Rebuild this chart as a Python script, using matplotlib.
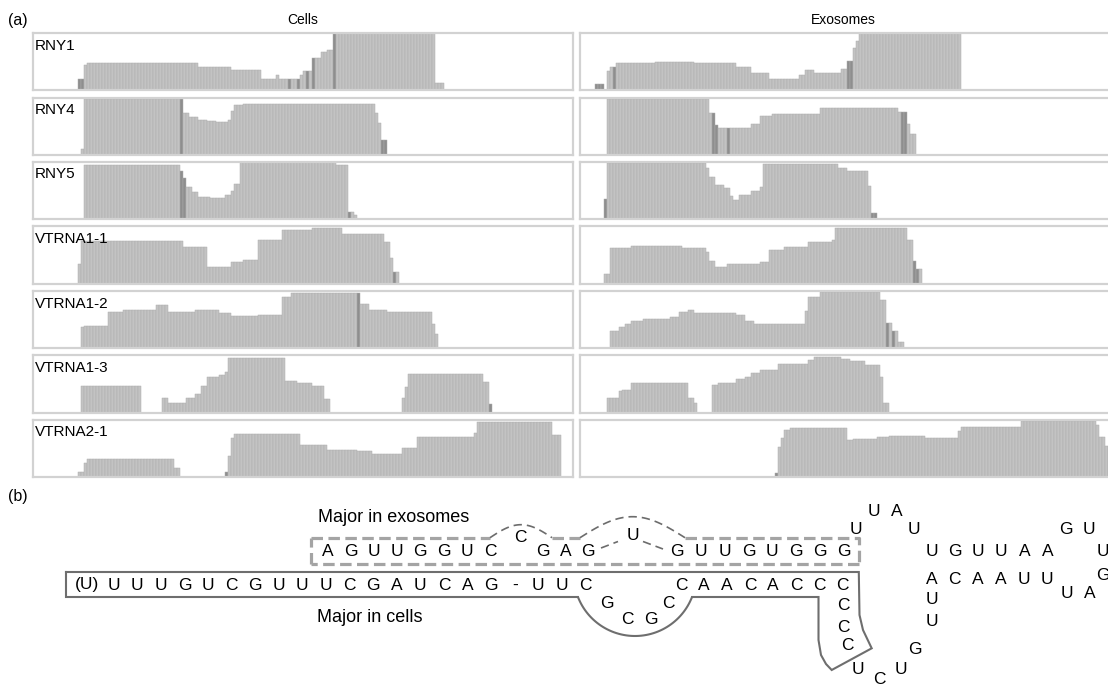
import numpy as np
import matplotlib
matplotlib.use("Agg")
import matplotlib.pyplot as plt

plt.rcParams["font.family"] = ["Liberation Sans", "DejaVu Sans"]

# ---------------------------------------------------------------------------
# Coverage profiles (position in nt along the track window, relative coverage)
# edges: step boundaries, cov: coverage of each step, dark: mismatch-rich bases
# ---------------------------------------------------------------------------
track_names = ["RNY1", "RNY4", "RNY5", "VTRNA1-1", "VTRNA1-2", "VTRNA1-3", "VTRNA2-1"]

rny1_cells_edges = [15, 17, 18, 55, 66, 76, 81, 82, 89, 90, 93, 96, 98, 100, 134, 137]
rny1_cells_cov = [0.19, 0.43, 0.47, 0.41, 0.35, 0.20, 0.26, 0.20, 0.26, 0.33, 0.57, 0.66, 0.70, 1.0, 0.12]
rny1_cells_dark = [15, 16, 85, 88, 91, 93, 100]

rny4_cells_edges = [16, 17, 50, 52, 55, 58, 61, 65, 66, 67, 70, 114, 115, 116, 118]
rny4_cells_cov = [0.09, 0.98, 0.72, 0.65, 0.61, 0.59, 0.57, 0.60, 0.76, 0.86, 0.89, 0.72, 0.55, 0.25]
rny4_cells_dark = [49, 116, 117]

rny5_cells_edges = [17, 49, 50, 51, 53, 55, 59, 64, 66, 67, 69, 101, 105, 107, 108]
rny5_cells_cov = [0.94, 0.85, 0.72, 0.57, 0.48, 0.38, 0.36, 0.42, 0.50, 0.62, 1.0, 0.95, 0.13, 0.07]
rny5_cells_dark = [49, 50, 105]

vtrna11_cells_edges = [15, 16, 50, 58, 66, 70, 75, 83, 93, 103, 117, 119, 120, 122]
vtrna11_cells_cov = [0.34, 0.75, 0.64, 0.29, 0.37, 0.42, 0.77, 0.93, 0.97, 0.87, 0.73, 0.45, 0.20]
vtrna11_cells_dark = [120]

vtrna12_cells_edges = [16, 17, 25, 30, 41, 45, 54, 62, 66, 75, 83, 86, 109, 112, 118, 133, 134, 135]
vtrna12_cells_cov = [0.36, 0.39, 0.64, 0.66, 0.75, 0.64, 0.67, 0.61, 0.56, 0.58, 0.89, 0.96, 0.77, 0.67, 0.64, 0.42, 0.25]
vtrna12_cells_dark = [108]

vtrna13_cells_edges = [16, 36, 43, 45, 51, 54, 56, 58, 62, 64, 65, 84, 88, 93, 97, 99,
                       123, 124, 125, 150, 152, 153]
vtrna13_cells_cov = [0.47, 0, 0.25, 0.16, 0.25, 0.33, 0.47, 0.62, 0.66, 0.71, 0.96, 0.55, 0.51,
                     0.46, 0.23, 0, 0.25, 0.44, 0.67, 0.53, 0.15]
vtrna13_cells_dark = [152]

vtrna21_cells_edges = [15, 17, 18, 47, 49, 64, 65, 66, 67, 89, 98, 108, 113, 123, 128, 147, 148, 173, 176]
vtrna21_cells_cov = [0.09, 0.24, 0.31, 0.16, 0, 0.08, 0.37, 0.69, 0.76, 0.57, 0.48, 0.45, 0.41, 0.51,
                     0.70, 0.77, 0.96, 0.74]
vtrna21_cells_dark = [64]

rny1_exo_edges = [5, 8, 9, 10, 12, 25, 38, 52, 57, 63, 73, 75, 78, 87, 89, 91, 92, 93, 127]
rny1_exo_cov = [0.11, 0, 0.33, 0.41, 0.47, 0.50, 0.47, 0.40, 0.30, 0.19, 0.27, 0.35, 0.30, 0.37,
                0.51, 0.74, 0.86, 1.0]
rny1_exo_dark = [5, 6, 7, 11, 89, 90]

rny4_exo_edges = [9, 43, 45, 46, 57, 60, 64, 80, 106, 109, 110, 112]
rny4_exo_cov = [0.98, 0.72, 0.51, 0.46, 0.54, 0.68, 0.71, 0.82, 0.74, 0.53, 0.36]
rny4_exo_dark = [44, 45, 49, 107, 108]

rny5_exo_edges = [8, 9, 42, 43, 45, 48, 50, 51, 53, 57, 60, 61, 86, 89, 96, 97, 99]
rny5_exo_cov = [0.35, 0.98, 0.89, 0.74, 0.60, 0.54, 0.40, 0.33, 0.42, 0.50, 0.57, 0.96, 0.89,
                0.85, 0.58, 0.10]
rny5_exo_dark = [8, 97, 98]

vtrna11_exo_edges = [8, 10, 17, 34, 42, 43, 45, 49, 60, 63, 68, 76, 84, 85, 109, 111, 112, 114]
vtrna11_exo_cov = [0.16, 0.63, 0.66, 0.63, 0.55, 0.40, 0.29, 0.34, 0.38, 0.59, 0.64, 0.73, 0.77,
                   0.98, 0.77, 0.40, 0.25]
vtrna11_exo_dark = [111, 112]

vtrna12_exo_edges = [10, 13, 15, 17, 21, 30, 33, 36, 38, 52, 55, 58, 75, 76, 80, 100, 102, 104, 106, 108]
vtrna12_exo_cov = [0.30, 0.37, 0.42, 0.48, 0.51, 0.55, 0.63, 0.67, 0.62, 0.58, 0.48, 0.42, 0.65,
                   0.90, 0.99, 0.84, 0.43, 0.30, 0.10]
vtrna12_exo_dark = [102, 104]

vtrna13_exo_edges = [9, 13, 14, 17, 36, 38, 39, 44, 46, 52, 55, 57, 60, 66, 76, 78, 87, 90, 95,
                     100, 101, 103]
vtrna13_exo_cov = [0.25, 0.37, 0.40, 0.52, 0.26, 0.16, 0, 0.48, 0.52, 0.58, 0.63, 0.69, 0.74,
                   0.85, 0.92, 0.98, 0.94, 0.90, 0.84, 0.63, 0.16]
vtrna13_exo_dark = []

vtrna21_exo_edges = [65, 66, 67, 68, 70, 89, 91, 99, 103, 115, 126, 127, 139, 147, 172, 173, 175, 177]
vtrna21_exo_cov = [0.07, 0.52, 0.68, 0.83, 0.86, 0.65, 0.66, 0.70, 0.72, 0.69, 0.80, 0.87, 0.88,
                   0.98, 0.91, 0.70, 0.55]
vtrna21_exo_dark = [65]

cells_tracks = [
    (rny1_cells_edges, rny1_cells_cov, rny1_cells_dark),
    (rny4_cells_edges, rny4_cells_cov, rny4_cells_dark),
    (rny5_cells_edges, rny5_cells_cov, rny5_cells_dark),
    (vtrna11_cells_edges, vtrna11_cells_cov, vtrna11_cells_dark),
    (vtrna12_cells_edges, vtrna12_cells_cov, vtrna12_cells_dark),
    (vtrna13_cells_edges, vtrna13_cells_cov, vtrna13_cells_dark),
    (vtrna21_cells_edges, vtrna21_cells_cov, vtrna21_cells_dark),
]
exo_tracks = [
    (rny1_exo_edges, rny1_exo_cov, rny1_exo_dark),
    (rny4_exo_edges, rny4_exo_cov, rny4_exo_dark),
    (rny5_exo_edges, rny5_exo_cov, rny5_exo_dark),
    (vtrna11_exo_edges, vtrna11_exo_cov, vtrna11_exo_dark),
    (vtrna12_exo_edges, vtrna12_exo_cov, vtrna12_exo_dark),
    (vtrna13_exo_edges, vtrna13_exo_cov, vtrna13_exo_dark),
    (vtrna21_exo_edges, vtrna21_exo_cov, vtrna21_exo_dark),
]

# Sequences of the VTRNA1-1 5' region shown in panel (b)
exo_run1 = "AGUUGGUC"
exo_bulge1 = "C"
exo_run2 = "GAG"
exo_bulge2 = "U"
exo_run3 = "GUUGUGGG"
cell_lead = "(U)"
cell_run1 = "UUUGUCGUUUCGAUCAG-UUC"
cell_loop = "GCGC"
cell_run2 = "CAACACCC"
cell_column = "CCC"
hairpin_turn = "UCUGUU"
stem_lower = "ACAAUU"
stem_tip = "UAGUUG"
stem_upper = "UGUUAA"
stem_return = "UAUU"

# ---------------------------------------------------------------------------
W, H = 1108, 686
fig = plt.figure(figsize=(W / 100, H / 100), dpi=100)


def px_axes(x, y, w, h):
    return fig.add_axes([x / W, 1 - (y + h) / H, w / W, h / H])


def expand(edges, cov):
    pos, hgt = [], []
    for a, b, c in zip(edges[:-1], edges[1:], cov):
        for p in range(a, b):
            pos.append(p)
            hgt.append(c)
    return np.array(pos), np.array(hgt)


def draw_track(ax, edges, cov, dark):
    pos, hgt = expand(edges, cov)
    keep = hgt > 0
    pos, hgt = pos[keep], hgt[keep]
    face = ["#8e8e8e" if p in dark else "#c3c3c3" for p in pos]
    ax.bar(pos, hgt, width=1.0, align="edge", color=face,
           edgecolor="#adadad", linewidth=0.35)
    ax.set_xlim(0, 180)
    ax.set_ylim(0, 1.0)
    ax.set_xticks([])
    ax.set_yticks([])
    for s in ax.spines.values():
        s.set_color("#d2d2d2")
        s.set_linewidth(1.6)


row_top0, row_step, row_h = 33.0, 64.5, 57.0
col_x = [32.5, 580.0]
col_w = 540.0

for i, name in enumerate(track_names):
    top = row_top0 + i * row_step
    for x0, tr in zip(col_x, (cells_tracks[i], exo_tracks[i])):
        ax = px_axes(x0, top, col_w, row_h)
        draw_track(ax, *tr)

ov = fig.add_axes([0, 0, 1, 1], facecolor="none")
ov.set_xlim(0, W)
ov.set_ylim(H, 0)
ov.axis("off")

# Panel (a) headings and track names
ov.text(8, 20, "(a)", fontsize=11.5, ha="left", va="center")
ov.text(303, 20, "Cells", fontsize=10, ha="center", va="center")
ov.text(843, 20, "Exosomes", fontsize=10, ha="center", va="center")
for i, name in enumerate(track_names):
    ov.text(35, row_top0 + i * row_step + 12.5, name, fontsize=11, ha="left", va="center")

# Panel (b)
ov.text(8, 497, "(b)", fontsize=11.5, ha="left", va="center")
ov.text(318, 518, "Major in exosomes", fontsize=13, ha="left", va="center")
ov.text(317, 617, "Major in cells", fontsize=13, ha="left", va="center")

LF = 12.5


def put(ch, x, y):
    ov.text(x, y, ch, fontsize=LF, ha="center", va="center")


def run(seq, x0, dx, y):
    for k, ch in enumerate(seq):
        put(ch, x0 + k * dx, y)


def seq_at(seq, points):
    for ch, (x, y) in zip(seq, points):
        put(ch, x, y)


# exosome-major strand
run(exo_run1, 327.5, 23.2, 551)
put(exo_bulge1, 520, 537)
run(exo_run2, 543.3, 22.5, 551)
put(exo_bulge2, 633, 535)
run(exo_run3, 677, 23.85, 551)

# cell-major strand and the rest of the hairpin
ov.text(87, 585, cell_lead, fontsize=LF, ha="center", va="center")
run(cell_run1, 113.6, 23.6, 585)
seq_at(cell_loop, [(607, 603), (627, 620), (650.5, 620), (668.6, 603)])
run(cell_run2, 681, 23.07, 585)
seq_at(cell_column, [(843.5, 606), (843.5, 627), (847, 646)])
seq_at(hairpin_turn, [(858, 670), (879, 680), (901, 670), (915, 649), (931.5, 622), (931.5, 600)])
run(stem_lower, 931.5, 23.1, 579)
seq_at(stem_tip, [(1066.5, 593), (1090, 593), (1103, 575), (1103, 552), (1089, 529), (1065.5, 529)])
run(stem_upper, 931.5, 23.2, 551)
seq_at(stem_return, [(914, 530), (897, 511), (874, 511), (856, 529)])

# dashed outline around the exosome-major fragment
box_kw = dict(color="#a4a4a4", lw=2.3, linestyle=(0, (3.6, 1.7)), solid_capstyle="butt")
arc_kw = dict(color="#6c6c6c", lw=1.2, linestyle=(0, (5, 3)))
yt, yb, xl, xr = 537.7, 564.0, 310.7, 858.8
ov.plot([xl, xl], [yb, yt], **box_kw)
ov.plot([xl, 490], [yt, yt], **box_kw)
ov.plot([552, 580], [yt, yt], **box_kw)
ov.plot([685, xr, xr], [yt, yt, yb], **box_kw)
ov.plot([xr, xl], [yb, yb], **box_kw)
t = np.linspace(0, 1, 40)
ov.plot(490 + 62 * t, yt - 13 * np.sin(np.pi * t), **arc_kw)
ov.plot(580 + 105 * t, yt - 21 * np.sin(np.pi * t), **arc_kw)
ov.plot([601, 618], [548, 541.5], **arc_kw)
ov.plot([643, 663], [541.5, 549], **arc_kw)

# solid outline around the cell-major fragment
th = np.radians(np.linspace(21.4, 158.6, 60))
bub_x = 635 + 61.2 * np.cos(th)
bub_y = 574.8 + 61.2 * np.sin(th)
path_x = np.concatenate([[66, 858.8, 859.5, 863, 871.7, 831.7, 826, 821, 818.5, 818.5, 692],
                         bub_x, [578, 66, 66]])
path_y = np.concatenate([[572, 572, 615, 630, 648.3, 670, 664, 655, 640, 597, 597],
                         bub_y, [597, 597, 572]])
ov.plot(path_x, path_y, color="#6e6e6e", lw=1.5, solid_joinstyle="miter")

fig.savefig("out.png", dpi=100)
